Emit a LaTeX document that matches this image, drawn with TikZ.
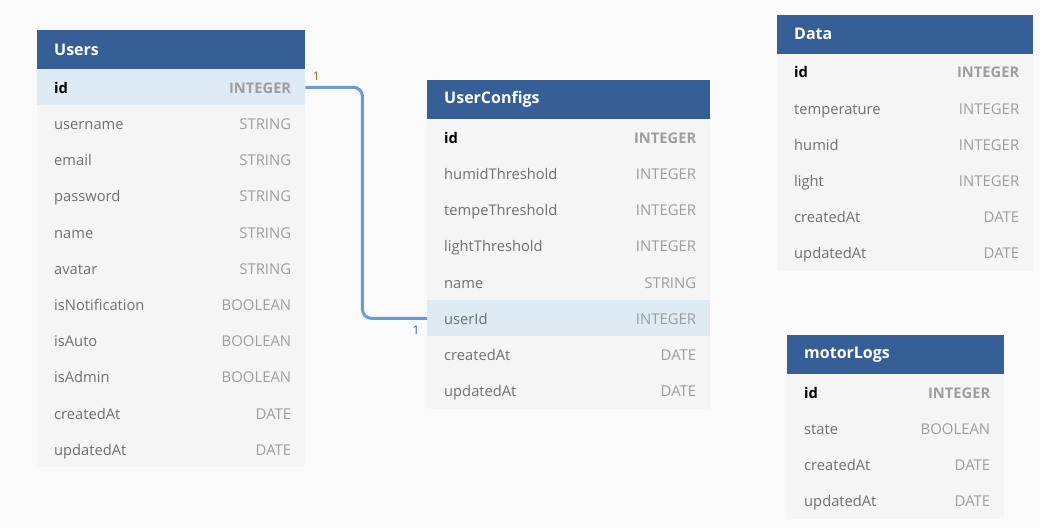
\documentclass[tikz,border=0pt]{standalone}
\usepackage{fontspec}
\setmainfont{Open Sans}
\usepackage{xcolor}
\usepackage{tikz}
\usetikzlibrary{calc}
\definecolor{hdrblue}{HTML}{355F96}
\definecolor{rowgrey}{HTML}{F5F5F5}
\definecolor{keyblue}{HTML}{DEEAF4}
\definecolor{paper}{HTML}{FAFAFA}
\definecolor{fldgrey}{HTML}{707070}
\definecolor{typgrey}{HTML}{9E9E9E}
\definecolor{linkblue}{HTML}{6A9BD2}
\definecolor{oneorange}{HTML}{B5651D}
\definecolor{oneblue}{HTML}{2A63A8}
\tikzset{
	hdrbox/.style={anchor=north west,fill=hdrblue,text=white,inner xsep=17pt,inner ysep=0pt,
		minimum height=39pt,align=left,font=\bfseries\fontsize{16}{18}\selectfont},
	rowbox/.style={anchor=north west,fill=rowgrey,inner sep=0pt,minimum height=36.2pt},
	keyrow/.style={rowbox,fill=keyblue},
	fld/.style={anchor=base west,inner sep=0pt,text=fldgrey,font=\fontsize{14.7}{16}\selectfont},
	typ/.style={anchor=base east,inner sep=0pt,text=typgrey,font=\fontsize{14.9}{16}\selectfont},
	keyfld/.style={fld,text=black,font=\bfseries\fontsize{14.7}{16}\selectfont},
	keytyp/.style={typ,font=\bfseries\fontsize{14.7}{16}\selectfont},
	link/.style={draw=linkblue,line width=3pt,rounded corners=9pt},
	card/.style={inner sep=0pt,font=\fontsize{12}{13}\selectfont}
}

\begin{document}
\begin{tikzpicture}[x=1pt,y=-1pt]
	\useasboundingbox[fill=paper] (0,0) rectangle (1040,528);
	% Users
	\node[hdrbox,text width=234pt] (users) at (37,30) {Users};
	\node[keyrow,minimum width=268pt] (users-id) at (37,69) {};
	\node[keyfld] at ($(users-id.west)+(17,6)$) {id};
	\node[keytyp] at ($(users-id.east)+(-14,6)$) {INTEGER};
	\foreach \fld/\typ [count=\i] in {username/STRING,email/STRING,password/STRING,name/STRING,
		avatar/STRING,isNotification/BOOLEAN,isAuto/BOOLEAN,isAdmin/BOOLEAN,createdAt/DATE,updatedAt/DATE}{
		\node[rowbox,minimum width=268pt] (users-\fld) at (37,69+36.2*\i) {};
		\node[fld] at ($(users-\fld.west)+(17,6)$) {\fld};
		\node[typ] at ($(users-\fld.east)+(-14,6)$) {\typ};
	}
	% UserConfigs
	\node[hdrbox,text width=249pt] (uc) at (427,80) {UserConfigs};
	\node[rowbox,minimum width=283pt] (uc-id) at (427,119) {};
	\node[keyfld] at ($(uc-id.west)+(17,6)$) {id};
	\node[keytyp] at ($(uc-id.east)+(-14,6)$) {INTEGER};
	\foreach \fld/\typ/\rs [count=\i] in {humidThreshold/INTEGER/rowbox,tempeThreshold/INTEGER/rowbox,
		lightThreshold/INTEGER/rowbox,name/STRING/rowbox,userId/INTEGER/keyrow,createdAt/DATE/rowbox,updatedAt/DATE/rowbox}{
		\node[\rs,minimum width=283pt] (uc-\fld) at (427,119+36.2*\i) {};
		\node[fld] at ($(uc-\fld.west)+(17,6)$) {\fld};
		\node[typ] at ($(uc-\fld.east)+(-14,6)$) {\typ};
	}
	% Data
	\node[hdrbox,text width=222pt] (data) at (777,14.5) {Data};
	\node[rowbox,minimum width=256pt] (data-id) at (777,53.5) {};
	\node[keyfld] at ($(data-id.west)+(17,6)$) {id};
	\node[keytyp] at ($(data-id.east)+(-14,6)$) {INTEGER};
	\foreach \fld/\typ [count=\i] in {temperature/INTEGER,humid/INTEGER,light/INTEGER,createdAt/DATE,updatedAt/DATE}{
		\node[rowbox,minimum width=256pt] (data-\fld) at (777,53.5+36.2*\i) {};
		\node[fld] at ($(data-\fld.west)+(17,6)$) {\fld};
		\node[typ] at ($(data-\fld.east)+(-14,6)$) {\typ};
	}
	% motorLogs
	\node[hdrbox,text width=183pt] (ml) at (787,335) {motorLogs};
	\node[rowbox,minimum width=217pt] (ml-id) at (787,374) {};
	\node[keyfld] at ($(ml-id.west)+(17,6)$) {id};
	\node[keytyp] at ($(ml-id.east)+(-14,6)$) {INTEGER};
	\foreach \fld/\typ [count=\i] in {state/BOOLEAN,createdAt/DATE,updatedAt/DATE}{
		\node[rowbox,minimum width=217pt] (ml-\fld) at (787,374+36.2*\i) {};
		\node[fld] at ($(ml-\fld.west)+(17,6)$) {\fld};
		\node[typ] at ($(ml-\fld.east)+(-14,6)$) {\typ};
	}
	% relation
	\draw[link] (users-id.east) -- ++(57,0) |- (uc-userId.west);
	\node[card,text=oneorange] (one-a) at ($(users-id.east)+(11,-11)$) {1};
	\node[card,text=oneblue] (one-b) at ($(uc-userId.west)+(-11,12)$) {1};
\end{tikzpicture}
\end{document}
